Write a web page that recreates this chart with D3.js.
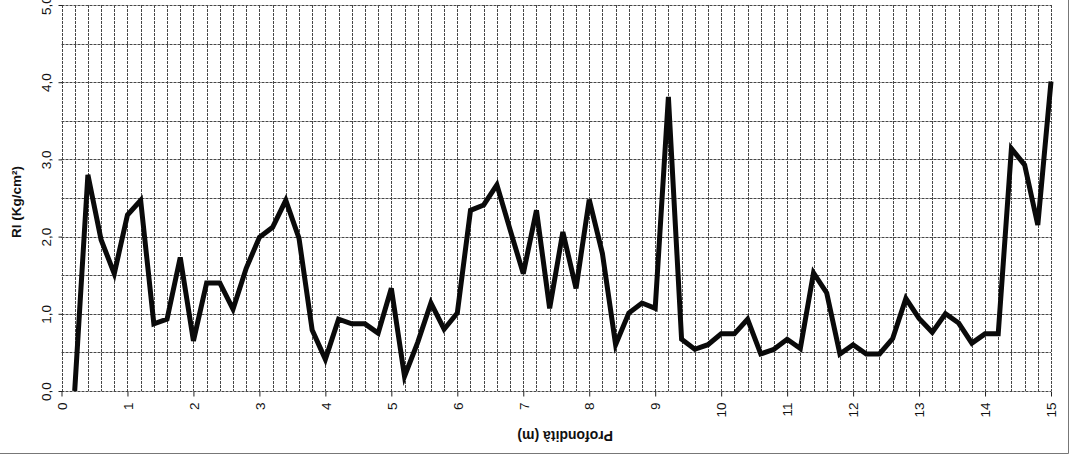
<!DOCTYPE html>
<html>
<head>
<meta charset="utf-8">
<script src="https://cdn.jsdelivr.net/npm/d3@7"></script>
<style>
  html, body { margin: 0; padding: 0; background: #fff; }
  svg { display: block; }
  text { font-family: "Liberation Sans", Arial, sans-serif; fill: #111; }
</style>
</head>
<body>
<svg id="chart" width="1072" height="455"></svg>
<script>
// Penetration test: resistance (RI) against depth, one reading every 0.2 m
const depths = [
  0.2, 0.4, 0.6, 0.8, 1.0, 1.2, 1.4, 1.6, 1.8, 2.0,
  2.2, 2.4, 2.6, 2.8, 3.0, 3.2, 3.4, 3.6, 3.8, 4.0,
  4.2, 4.4, 4.6, 4.8, 5.0, 5.2, 5.4, 5.6, 5.8, 6.0,
  6.2, 6.4, 6.6, 6.8, 7.0, 7.2, 7.4, 7.6, 7.8, 8.0,
  8.2, 8.4, 8.6, 8.8, 9.0, 9.2, 9.4, 9.6, 9.8, 10.0,
  10.2, 10.4, 10.6, 10.8, 11.0, 11.2, 11.4, 11.6, 11.8, 12.0,
  12.2, 12.4, 12.6, 12.8, 13.0, 13.2, 13.4, 13.6, 13.8, 14.0,
  14.2, 14.4, 14.6, 14.8, 15.0
];
const resistance = [
  0.00, 2.80, 1.96, 1.52, 2.28, 2.47, 0.87, 0.93, 1.73, 0.65,
  1.40, 1.40, 1.06, 1.59, 1.99, 2.12, 2.47, 1.98, 0.79, 0.41,
  0.93, 0.87, 0.87, 0.75, 1.33, 0.19, 0.63, 1.14, 0.80, 1.01,
  2.34, 2.41, 2.67, 2.09, 1.52, 2.34, 1.07, 2.06, 1.33, 2.48,
  1.78, 0.60, 1.01, 1.14, 1.07, 3.81, 0.67, 0.54, 0.60, 0.74,
  0.74, 0.93, 0.48, 0.54, 0.67, 0.55, 1.53, 1.27, 0.48, 0.60,
  0.48, 0.48, 0.68, 1.20, 0.94, 0.76, 1.00, 0.88, 0.62, 0.74,
  0.74, 3.14, 2.93, 2.15, 4.01
];
const xTickValues = [0, 1, 2, 3, 4, 5, 6, 7, 8, 9, 10, 11, 12, 13, 14, 15];
const xTickLabels = ["0", "1", "2", "3", "4", "5", "6", "7", "8", "9", "10", "11", "12", "13", "14", "15"];
const yTickValues = [0, 1, 2, 3, 4, 5];
const yTickLabels = ["0,0", "1,0", "2,0", "3,0", "4,0", "5,0"];
const xGridValues = [
  0, 0.2, 0.4, 0.6, 0.8, 1, 1.2, 1.4, 1.6, 1.8, 2, 2.2, 2.4, 2.6, 2.8, 3, 3.2, 3.4, 3.6, 3.8,
  4, 4.2, 4.4, 4.6, 4.8, 5, 5.2, 5.4, 5.6, 5.8, 6, 6.2, 6.4, 6.6, 6.8, 7, 7.2, 7.4, 7.6, 7.8,
  8, 8.2, 8.4, 8.6, 8.8, 9, 9.2, 9.4, 9.6, 9.8, 10, 10.2, 10.4, 10.6, 10.8, 11, 11.2, 11.4, 11.6, 11.8,
  12, 12.2, 12.4, 12.6, 12.8, 13, 13.2, 13.4, 13.6, 13.8, 14, 14.2, 14.4, 14.6, 14.8, 15
];
const yGridValues = [0, 0.5, 1, 1.5, 2, 2.5, 3, 3.5, 4, 4.5, 5];
const xTitle = "Profondità (m)";
const yTitle = "RI (Kg/cm²)";

const svg = d3.select("#chart");
const plot = { left: 61.5, right: 1051, top: 5, bottom: 391 };

const x = d3.scaleLinear().domain([0, 15]).range([plot.left, plot.right]);
const y = d3.scaleLinear().domain([0, 5]).range([plot.bottom, plot.top]);

// outer frame (right and bottom edges)
svg.append("line").attr("x1", 0).attr("x2", 1068.5).attr("y1", 453.5).attr("y2", 453.5)
  .attr("stroke", "#777").attr("stroke-width", 1);
svg.append("line").attr("x1", 1068.5).attr("x2", 1068.5).attr("y1", 0).attr("y2", 453.5)
  .attr("stroke", "#777").attr("stroke-width", 1);

// grid
const grid = svg.append("g").attr("stroke", "#1a1a1a").attr("stroke-width", 1)
  .attr("stroke-dasharray", "3,1").attr("opacity", 0.8);
grid.selectAll("line.v").data(xGridValues).join("line").attr("class", "v")
  .attr("x1", d => Math.round(x(d)) + 0.5).attr("x2", d => Math.round(x(d)) + 0.5)
  .attr("y1", plot.top).attr("y2", plot.bottom);
grid.selectAll("line.h").data(yGridValues).join("line").attr("class", "h")
  .attr("y1", d => Math.round(y(d)) + 0.5).attr("y2", d => Math.round(y(d)) + 0.5)
  .attr("x1", plot.left).attr("x2", plot.right);

// x axis: integer ticks below, labels turned to read bottom-to-top
const xAxis = d3.axisBottom(x).tickValues(xTickValues)
  .tickFormat((d, i) => xTickLabels[i]).tickSize(5).tickSizeOuter(0);
const gx = svg.append("g").attr("transform", `translate(0,${Math.round(plot.bottom) + 0.5})`).call(xAxis);
gx.select(".domain").remove();
gx.selectAll(".tick line").attr("stroke", "#222");
gx.selectAll(".tick text")
  .attr("font-size", 13.5)
  .attr("fill", "#111")
  .attr("text-anchor", "end")
  .attr("dy", "0.35em")
  .attr("y", 0)
  .attr("transform", "translate(0,11) rotate(-90)");

// y axis: ticks on the left, labels rotated
const yAxis = d3.axisLeft(y).tickValues(yTickValues)
  .tickFormat((d, i) => yTickLabels[i]).tickSize(4).tickSizeOuter(0);
const gy = svg.append("g").attr("transform", `translate(${Math.round(plot.left) + 0.5},0)`).call(yAxis);
gy.select(".domain").remove();
gy.selectAll(".tick line").attr("stroke", "#222");
gy.selectAll(".tick text")
  .attr("font-size", 13.5)
  .attr("fill", "#111")
  .attr("text-anchor", "middle")
  .attr("x", 0).attr("dy", 0)
  .attr("transform", "translate(-12,0) rotate(-90)");

// axis titles
svg.append("text")
  .attr("transform", `translate(${(plot.left + plot.right) / 2 + 9},${436}) rotate(180)`)
  .attr("text-anchor", "middle")
  .attr("dominant-baseline", "central")
  .attr("font-size", 14).attr("font-weight", "bold")
  .text(xTitle);
svg.append("text")
  .attr("transform", `translate(${16},${(plot.top + plot.bottom) / 2 + 4}) rotate(-90)`)
  .attr("text-anchor", "middle")
  .attr("dominant-baseline", "central")
  .attr("font-size", 13.5).attr("font-weight", "bold")
  .text(yTitle);

// resistance profile
const line = d3.line().x((d, i) => x(depths[i])).y(d => y(d));
svg.append("path")
  .datum(resistance)
  .attr("d", line)
  .attr("fill", "none")
  .attr("stroke", "#0a0a0a")
  .attr("stroke-width", 5)
  .attr("stroke-linejoin", "miter")
  .attr("stroke-miterlimit", 4);
</script>
</body>
</html>
